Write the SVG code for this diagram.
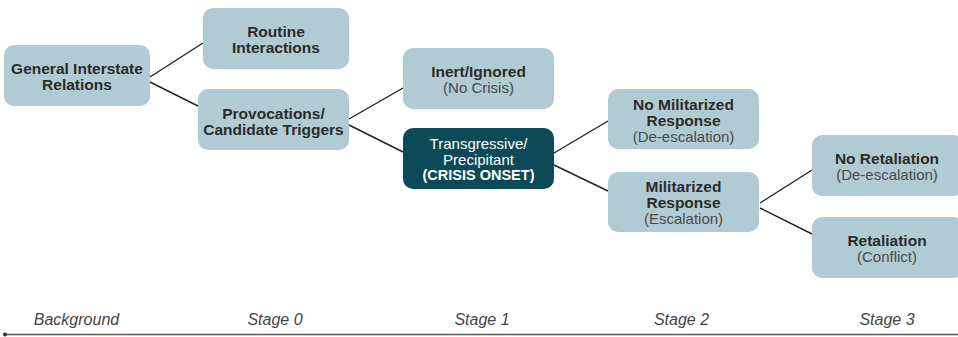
<svg xmlns="http://www.w3.org/2000/svg" width="958" height="337" viewBox="0 0 958 337">
<style>
.n{fill:#b1cbd4}
.d{fill:#0c4a57}
.b{font-family:"Liberation Sans",Arial,sans-serif;font-weight:bold;font-size:15.5px;fill:#2b2b2b;text-anchor:middle}
.r{font-family:"Liberation Sans",Arial,sans-serif;font-size:15px;fill:#4a4a4a;text-anchor:middle}
.t{font-family:"Liberation Sans",Arial,sans-serif;font-size:14.5px;fill:#ffffff;text-anchor:middle}
.tb{font-weight:bold}
.s{font-family:"Liberation Sans",Arial,sans-serif;font-style:italic;font-size:16px;fill:#444;text-anchor:middle}
.c line{stroke:#222;stroke-width:1.4}
</style>
<g class="c" id="connectors">
<line x1="150" y1="77" x2="203" y2="43"/>
<line x1="150" y1="82" x2="198" y2="106"/>
<line x1="349" y1="119" x2="403" y2="88"/>
<line x1="349" y1="125" x2="403" y2="152"/>
<line x1="554" y1="153" x2="608" y2="121"/>
<line x1="554" y1="165" x2="608" y2="191"/>
<line x1="760" y1="203" x2="812" y2="170"/>
<line x1="760" y1="208" x2="812" y2="234"/>
</g>
<g id="general">
<rect class="n" x="4" y="45" width="146" height="61" rx="10"/>
<text class="b" x="77" y="74">General Interstate</text>
<text class="b" x="77" y="90">Relations</text>
</g>
<g id="routine">
<rect class="n" x="203" y="8" width="146" height="61" rx="10"/>
<text class="b" x="276" y="37">Routine</text>
<text class="b" x="276" y="53">Interactions</text>
</g>
<g id="provocations">
<rect class="n" x="198" y="89" width="151" height="61" rx="10"/>
<text class="b" x="273.5" y="119">Provocations/</text>
<text class="b" x="273.5" y="135">Candidate Triggers</text>
</g>
<g id="inert">
<rect class="n" x="403" y="48" width="151" height="61" rx="10"/>
<text class="b" x="478.5" y="77">Inert/Ignored</text>
<text class="r" x="478.5" y="93">(No Crisis)</text>
</g>
<g id="transgressive">
<rect class="d" x="403" y="128" width="151" height="61" rx="10"/>
<text class="t" x="478.5" y="148.5" style="font-size:15px">Transgressive/</text>
<text class="t" x="478.5" y="164.5" style="font-size:15px">Precipitant</text>
<text class="t tb" x="478.5" y="179.5">(CRISIS ONSET)</text>
</g>
<g id="no-militarized">
<rect class="n" x="608" y="89" width="151" height="60" rx="10"/>
<text class="b" x="683.5" y="110">No Militarized</text>
<text class="b" x="683.5" y="126">Response</text>
<text class="r" x="683.5" y="142">(De-escalation)</text>
</g>
<g id="militarized">
<rect class="n" x="608" y="172" width="151" height="60" rx="10"/>
<text class="b" x="683.5" y="192">Militarized</text>
<text class="b" x="683.5" y="208">Response</text>
<text class="r" x="683.5" y="224">(Escalation)</text>
</g>
<g id="no-retaliation">
<rect class="n" x="812" y="135" width="151" height="61" rx="10"/>
<text class="b" x="887" y="164">No Retaliation</text>
<text class="r" x="887" y="180">(De-escalation)</text>
</g>
<g id="retaliation">
<rect class="n" x="812" y="217" width="151" height="61" rx="10"/>
<text class="b" x="887" y="246">Retaliation</text>
<text class="r" x="887" y="262">(Conflict)</text>
</g>
<g id="timeline">
<text class="s" x="76.5" y="325">Background</text>
<text class="s" x="275" y="325">Stage 0</text>
<text class="s" x="482" y="325">Stage 1</text>
<text class="s" x="681.5" y="325">Stage 2</text>
<text class="s" x="887" y="325">Stage 3</text>
<line x1="5" y1="334.5" x2="958" y2="334.5" stroke="#555" stroke-width="1.6"/>
<circle cx="5" cy="334.5" r="2" fill="#333"/>
</g>
</svg>
